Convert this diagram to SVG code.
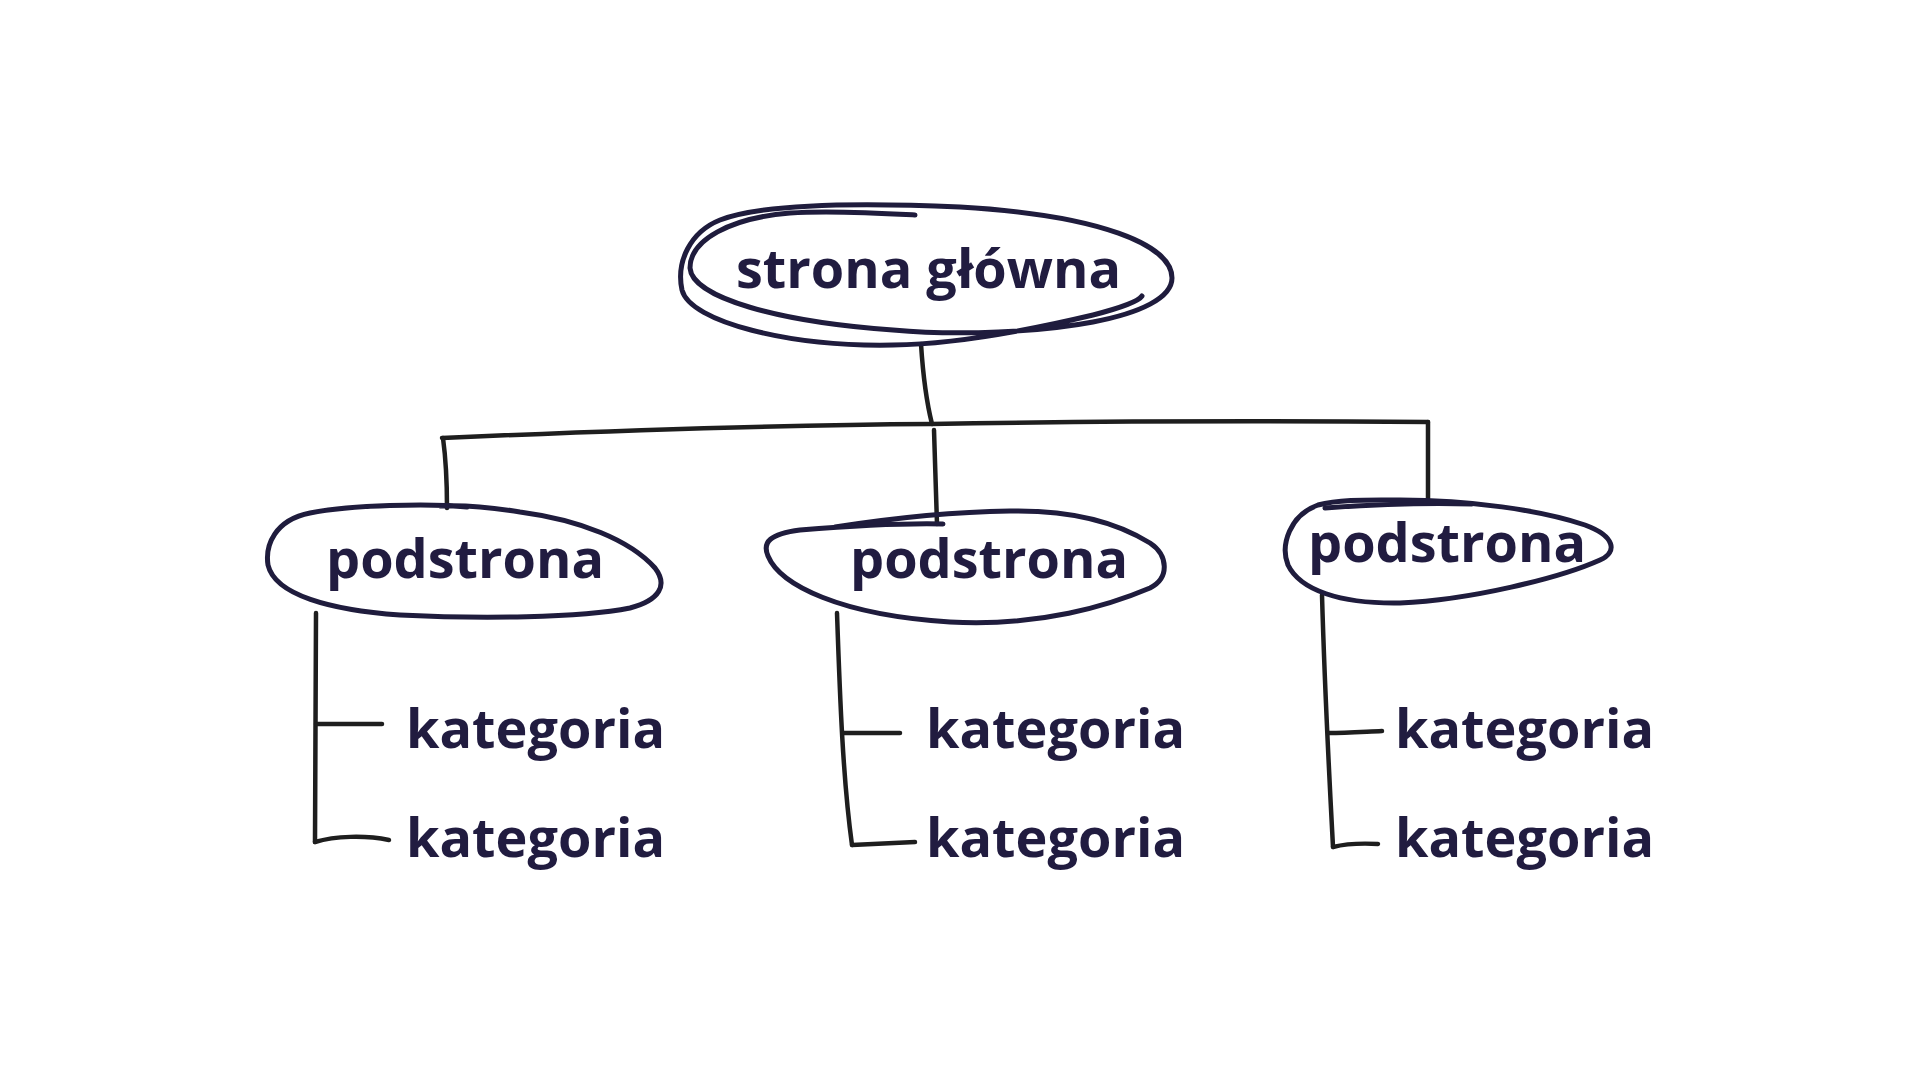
<svg xmlns="http://www.w3.org/2000/svg" width="1920" height="1080" viewBox="0 0 1920 1080">
<style>
.node{fill:none;stroke:#1f1c3d;stroke-width:5;stroke-linecap:round;stroke-linejoin:round}
.conn{fill:none;stroke:#1e1e1e;stroke-width:4.5;stroke-linecap:round;stroke-linejoin:round}
.lbl{font-family:"Open Sans","Noto Sans",sans-serif;font-weight:700;font-size:54px;fill:#211c40}
</style>
<rect width="1920" height="1080" fill="#ffffff"/>
<g id="connectors">
<path class="conn" d="M921,344 C923,375 926,400 932,424"/>
<path class="conn" d="M442,438 C600,431 780,425 931,424 C1100,421 1300,421 1428,422"/>
<path class="conn" d="M443,438 C446,460 447,485 447,508"/>
<path class="conn" d="M934,430 C935,460 936,495 937,524"/>
<path class="conn" d="M1428,422 L1428,500"/>
<path class="conn" d="M316,613 L315,842"/>
<path class="conn" d="M316,724 L382,724"/>
<path class="conn" d="M315,842 C335,836 365,835 389,840"/>
<path class="conn" d="M837,613 C840,700 843,780 852,845"/>
<path class="conn" d="M843,733 L900,733"/>
<path class="conn" d="M852,845 L915,842"/>
<path class="conn" d="M1322,595 C1325,700 1330,790 1333,847"/>
<path class="conn" d="M1329,733 C1345,733 1360,732 1382,731"/>
<path class="conn" d="M1333,847 C1345,844 1360,843 1378,844"/>
</g>
<g id="node-main">
<path class="node" d="M915,215 C880,213 830,210 790,213 C730,218 690,240 690,268 C692,298 780,322 893,330 C960,336 1040,332 1093,322 C1140,313 1172,298 1172,278 C1172,245 1100,215 960,207 C850,202 760,205 720,220 C690,232 676,262 682,290 C690,322 790,347 893,345 C960,344 1030,330 1093,315 C1120,308 1138,302 1142,296"/>
<text class="lbl" x="736" y="288">strona główna</text>
</g>
<g id="node-sub1">
<path class="node" d="M467,507 C430,503 350,505 310,513 C275,520 265,545 268,565 C275,595 330,610 400,615 C480,619 580,618 630,608 C660,600 668,585 655,568 C630,540 580,520 520,512 C490,507 460,505 440,506"/>
<text class="lbl" x="326" y="578">podstrona</text>
</g>
<g id="node-sub2">
<path class="node" d="M943,524 C900,523 850,526 800,530 C770,534 762,542 768,556 C780,585 840,615 950,622 C1040,627 1110,605 1150,588 C1170,578 1168,555 1150,543 C1110,518 1060,510 1010,511 C940,512 880,520 835,527"/>
<text class="lbl" x="850" y="578">podstrona</text>
</g>
<g id="node-sub3">
<path class="node" d="M1325,508 C1380,504 1440,503 1472,504"/>
<path class="node" d="M1400,500 C1470,500 1540,510 1585,525 C1615,536 1618,552 1600,560 C1560,578 1470,600 1400,603 C1340,604 1300,590 1288,565 C1280,545 1290,515 1318,505 C1340,499 1370,500 1400,500"/>
<text class="lbl" x="1308" y="562">podstrona</text>
</g>
<g id="cat-1a"><text class="lbl" x="406" y="748">kategoria</text></g>
<g id="cat-1b"><text class="lbl" x="406" y="857">kategoria</text></g>
<g id="cat-2a"><text class="lbl" x="926" y="748">kategoria</text></g>
<g id="cat-2b"><text class="lbl" x="926" y="857">kategoria</text></g>
<g id="cat-3a"><text class="lbl" x="1395" y="748">kategoria</text></g>
<g id="cat-3b"><text class="lbl" x="1395" y="857">kategoria</text></g>
</svg>
